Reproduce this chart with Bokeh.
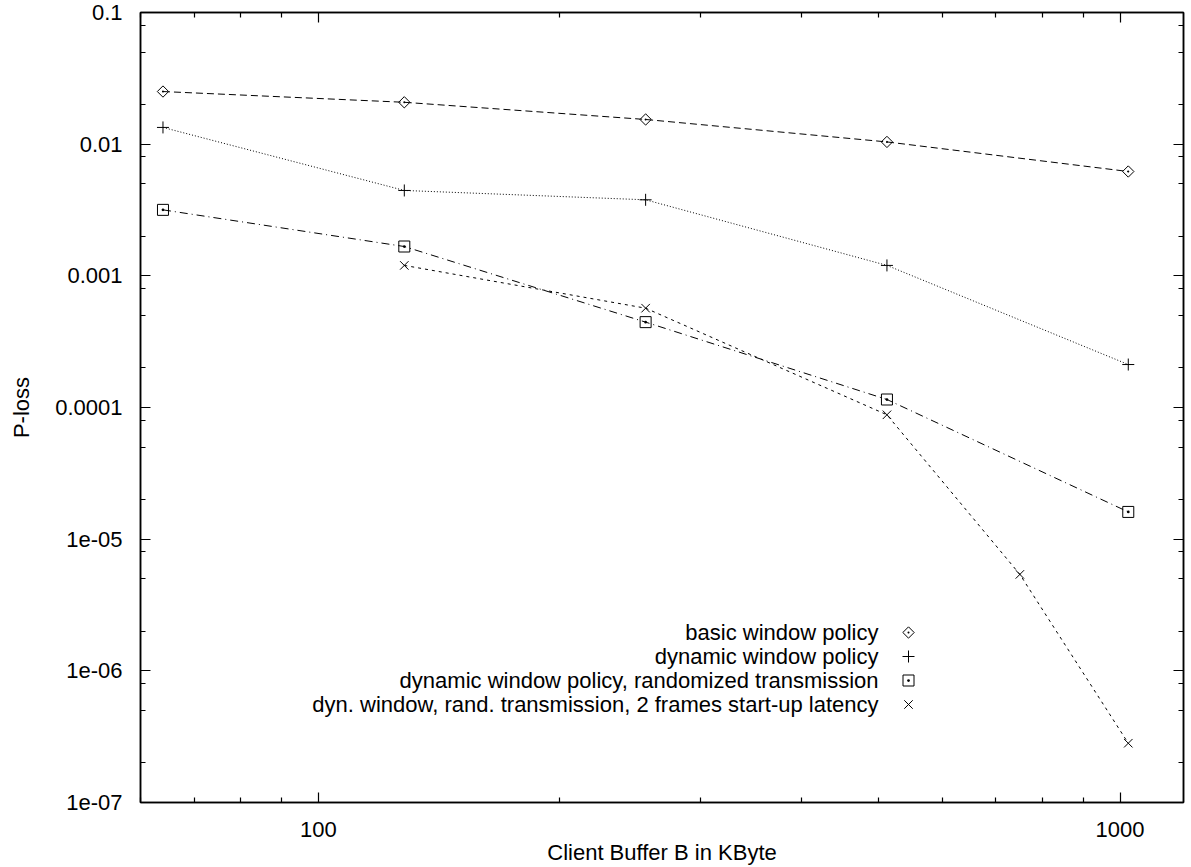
import math
from bokeh.plotting import figure
from bokeh.models import FixedTicker, CustomJSTickFormatter, LogAxis, ColumnDataSource
from bokeh.embed import file_html
from bokeh.resources import INLINE
from bokeh.core.properties import value

# ---------------- data ----------------
buffer_kb = [64, 128, 256, 512, 1024]
latency_kb = [128, 256, 512, 750, 1024]

basic_window = [0.0251, 0.0208, 0.0154, 0.0104, 0.0062]
dynamic_window = [0.0134, 0.00445, 0.00378, 0.0012, 0.000212]
randomized = [0.00317, 0.00167, 0.000445, 0.000115, 1.61e-5]
startup_latency = [0.0012, 0.000568, 8.8e-5, 5.4e-6, 2.82e-7]

series_names = [
    "basic window policy",
    "dynamic window policy",
    "dynamic window policy, randomized transmission",
    "dyn. window, rand. transmission, 2 frames start-up latency",
]

x_tick_values = [100, 1000]
x_tick_labels = ["100", "1000"]
y_tick_values = [0.1, 0.01, 0.001, 0.0001, 1e-5, 1e-6, 1e-7]
y_tick_labels = ["0.1", "0.01", "0.001", "0.0001", "1e-05", "1e-06", "1e-07"]

x_minor = [60, 70, 80, 90] + [m * 100 for m in range(2, 10)]
y_minor = [m * 10.0 ** k for k in range(-7, -1) for m in (2, 5, 8)]

x_title = "Client Buffer B in KByte"
y_title = "P-loss"

# ---------------- layout ----------------
FONT = "Liberation Sans"
FS = "22px"
W, H = 1191, 867
X_RANGE = (60, 1200)
Y_RANGE = (1e-7, 0.1)
FRAME_L, FRAME_R, FRAME_T, FRAME_B = 140, 1183, 12, 802   # canvas pixels

p = figure(
    width=W, height=H,
    x_axis_type="log", y_axis_type="log",
    x_range=X_RANGE, y_range=Y_RANGE,
    output_backend="svg", toolbar_location=None,
    min_border_left=FRAME_L, min_border_right=W - FRAME_R,
    min_border_top=FRAME_T, min_border_bottom=H - FRAME_B,
    background_fill_color="white", border_fill_color="white",
)
p.grid.visible = False
p.outline_line_color = "black"
p.outline_line_width = 1.5

fmt_code = """
for (let i = 0; i < tv.length; i++) {
  if (Math.abs(Math.log10(tv[i]) - Math.log10(tick)) < 1e-6) return tl[i];
}
return "";
"""
xfmt = CustomJSTickFormatter(args=dict(tv=x_tick_values, tl=x_tick_labels), code=fmt_code)
yfmt = CustomJSTickFormatter(args=dict(tv=y_tick_values, tl=y_tick_labels), code=fmt_code)


def style_axis(ax):
    ax.axis_line_color = "black"
    ax.axis_line_width = 1.5
    ax.major_tick_in = 10
    ax.major_tick_out = 0
    ax.minor_tick_in = 5
    ax.minor_tick_out = 0
    ax.major_tick_line_width = 1.2
    ax.minor_tick_line_width = 1.2
    ax.major_tick_line_color = "black"
    ax.minor_tick_line_color = "black"
    ax.major_label_text_font = FONT
    ax.major_label_text_font_size = FS
    ax.major_label_text_color = "black"
    ax.axis_label_text_font = FONT
    ax.axis_label_text_font_size = FS
    ax.axis_label_text_font_style = "normal"
    ax.axis_label_text_color = "black"


def mirror_axis(ticks, minor):
    ax = LogAxis(ticker=FixedTicker(ticks=ticks, minor_ticks=minor),
                 formatter=CustomJSTickFormatter(code="return '';"))
    style_axis(ax)
    ax.major_label_text_font_size = "0px"
    ax.major_label_standoff = 0
    ax.axis_label_standoff = 0
    ax.axis_label_text_font_size = "0px"
    return ax


xb = p.xaxis[0]
xb.ticker = FixedTicker(ticks=x_tick_values, minor_ticks=x_minor)
xb.formatter = xfmt
style_axis(xb)
xb.axis_label = x_title
xb.major_label_standoff = 19
xb.axis_label_standoff = 0

yl = p.yaxis[0]
yl.ticker = FixedTicker(ticks=y_tick_values, minor_ticks=y_minor)
yl.formatter = yfmt
style_axis(yl)
yl.axis_label = y_title
yl.major_label_standoff = 18
yl.axis_label_standoff = 18

p.add_layout(mirror_axis(x_tick_values, x_minor), "above")
p.add_layout(mirror_axis(y_tick_values, y_minor), "right")

# ---------------- series ----------------
LW = 1
p.line(buffer_kb, basic_window, line_color="black", line_width=LW, line_dash="7 4")
p.line(buffer_kb, dynamic_window, line_color="black", line_width=LW, line_dash="1 2")
p.line(buffer_kb, randomized, line_color="black", line_width=LW, line_dash="8 4 1 4")
p.line(latency_kb, startup_latency, line_color="black", line_width=LW, line_dash="3 4")

p.scatter(buffer_kb, basic_window, marker="square_dot", size=8, angle=0.785398,
          line_color="black", fill_color=None, line_width=1)
p.scatter(buffer_kb, dynamic_window, marker="cross", size=12,
          line_color="black", line_width=1)
p.scatter(buffer_kb, randomized, marker="square_dot", size=11,
          line_color="black", fill_color=None, line_width=1)
p.scatter(latency_kb, startup_latency, marker="x", size=12,
          line_color="black", line_width=1)


# ---------------- key (gnuplot style: text right-aligned, symbol to its right) ----------------
def px_x(px):
    lo, hi = math.log10(X_RANGE[0]), math.log10(X_RANGE[1])
    return 10 ** (lo + (px - FRAME_L) / (FRAME_R - FRAME_L) * (hi - lo))


def px_y(py):
    lo, hi = math.log10(Y_RANGE[0]), math.log10(Y_RANGE[1])
    return 10 ** (hi - (py - FRAME_T) / (FRAME_B - FRAME_T) * (hi - lo))


key_rows_px = [632, 656, 680, 704]
key_src = ColumnDataSource(dict(
    tx=[px_x(878)] * 4,
    mx=[px_x(908)] * 4,
    y=[px_y(r) for r in key_rows_px],
    text=series_names,
    marker=["square_dot", "cross", "square_dot", "x"],
    size=[8, 12, 11, 12],
    angle=[0.785398, 0, 0, 0],
))
p.text(x="tx", y="y", text="text", source=key_src, text_align="right",
       text_baseline="middle", text_font=value(FONT), text_font_size=FS,
       text_color="black")
p.scatter(x="mx", y="y", marker="marker", size="size", angle="angle",
          source=key_src, line_color="black", fill_color=None, line_width=1)

open("out.html", "w").write(file_html(p, INLINE))
